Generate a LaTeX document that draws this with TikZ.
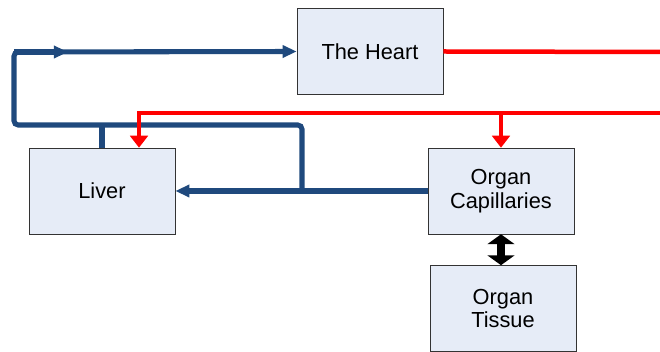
\documentclass[tikz,border=0pt]{standalone}
\usepackage{fontspec}
\setmainfont{Liberation Sans}
\usepackage{tikz}
\usetikzlibrary{positioning,arrows.meta,calc}
\usepackage{xcolor}
\definecolor{vein}{RGB}{31,73,125}
\definecolor{artery}{RGB}{255,0,0}
\definecolor{organ}{RGB}{230,236,247}

\begin{document}
\begin{tikzpicture}[
    x=0.025cm, y=-0.025cm,
    block/.style={draw=black!80, fill=organ, minimum width=3.65cm, minimum height=2.15cm, align=center, font=\fontsize{15.5}{17}\selectfont},
    venous/.style={draw=vein, line width=3.6pt},
    arterial/.style={draw=artery, line width=3.2pt},
    vtip/.style={-{Triangle[length=10pt, width=8.5pt]}},
    atip/.style={-{Triangle[length=8.5pt, width=12.5pt]}}
]
    \useasboundingbox (0,0) rectangle (660,352);

    % Organs
    \node[block] (heart) at (370,51.5) {The Heart};
    \node[block] (liver) at (102,191) {Liver};
    \node[block] (caps) at (501,191) {Organ\\Capillaries};
    \node[block] (tissue) at (503,308.5) {Organ\\Tissue};

    % Corner points of the venous loop
    \coordinate (topleft) at (14,52);
    \coordinate (lowleft) at (14,125);
    \coordinate (midtop) at (68,52);
    \coordinate (junc) at (302,190);

    % Arterial free ends
    \coordinate (eastout) at (660,52);
    \coordinate (eastin) at (660,113);

    % Venous return
    \draw[venous, vtip] (caps.west) -- (liver.east);
    \draw[venous, rounded corners=3pt, vtip] (junc) |- (lowleft) -- (topleft) -- (heart.west);
    \draw[venous, vtip] (topleft) -- (midtop);
    \draw[venous] (liver.north) -- (liver.north |- lowleft);

    % Arterial supply
    \draw[arterial] (heart.east) -- (eastout);
    \draw[arterial, atip] (eastin) -| ([xshift=0.925cm]liver.north);
    \draw[arterial, atip] (caps.north |- eastin) -- (caps.north);

    % Exchange
    \draw[black, line width=6pt, {Triangle[length=7pt, width=19pt]}-{Triangle[length=7pt, width=19pt]}] (caps.south) -- (caps.south |- tissue.north);
\end{tikzpicture}
\end{document}
